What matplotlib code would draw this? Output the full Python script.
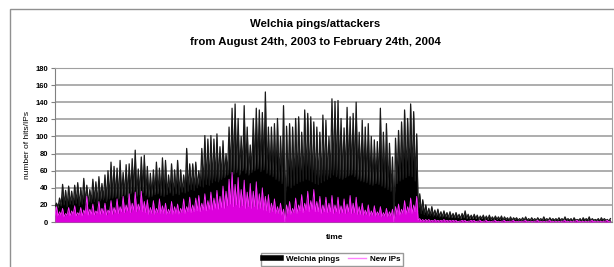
import numpy as np
import matplotlib.pyplot as plt
from matplotlib.patches import Rectangle

plt.rcParams['font.family'] = ['Liberation Sans', 'DejaVu Sans']

# Daily values, Aug 24th 2003 .. Feb 24th 2004 (184 days)
# daily peak of Welchia pings
pings_peak = [
    22, 28, 44, 37, 42, 36, 43, 46, 40, 51,
    43, 38, 50, 47, 53, 45, 55, 60, 70, 65,
    63, 72, 58, 67, 68, 74, 84, 62, 76, 78,
    65, 57, 61, 70, 63, 75, 72, 55, 68, 61,
    72, 61, 55, 86, 68, 68, 70, 60, 86, 101,
    97, 101, 97, 103, 88, 95, 80, 111, 133, 138,
    121, 100, 136, 111, 90, 121, 133, 131, 128, 152,
    111, 111, 115, 121, 100, 136, 112, 115, 111, 121,
    123, 105, 131, 127, 123, 117, 111, 105, 125, 119,
    100, 144, 141, 142, 121, 110, 134, 123, 127, 140,
    105, 119, 111, 115, 100, 96, 94, 133, 105, 115,
    92, 76, 98, 107, 117, 131, 121, 138, 129, 103,
    33, 26, 20, 16, 18, 14, 15, 12, 13, 11,
    12, 10, 11, 9, 10, 13, 9, 8, 9, 8,
    7, 8, 7, 8, 6, 7, 6, 7, 6, 5,
    6, 5, 5, 4, 5, 6, 4, 5, 4, 5,
    4, 6, 4, 5, 4, 4, 5, 4, 6, 4,
    4, 5, 3, 4, 5, 4, 6, 4, 3, 4,
    5, 4, 3, 4,
]
# daily low (night) level of Welchia pings; 0 = missing data
pings_low = [
    18, 17, 19, 20, 18, 21, 20, 22, 19, 21,
    22, 21, 23, 24, 22, 25, 26, 24, 27, 28,
    29, 27, 30, 31, 29, 33, 35, 30, 32, 34,
    31, 29, 30, 32, 33, 31, 30, 32, 34, 31,
    33, 32, 35, 34, 36, 38, 37, 40, 42, 41,
    44, 43, 46, 48, 47, 50, 52, 55, 57, 56,
    58, 55, 60, 57, 55, 58, 60, 62, 59, 61,
    57, 55, 53, 50, 48, 45, 0, 42, 40, 43,
    45, 47, 48, 50, 49, 47, 45, 44, 46, 48,
    50, 52, 55, 53, 51, 50, 52, 54, 55, 53,
    50, 48, 47, 46, 44, 43, 45, 44, 42, 40,
    38, 36, 0, 45, 48, 50, 52, 54, 53, 48,
    12, 10, 9, 8, 8, 7, 7, 6, 6, 6,
    5, 5, 5, 5, 4, 5, 4, 4, 4, 4,
    3, 4, 3, 3, 3, 3, 3, 3, 2, 3,
    2, 2, 3, 2, 2, 2, 2, 2, 2, 2,
    2, 2, 2, 2, 2, 2, 2, 2, 2, 2,
    2, 1, 2, 2, 1, 2, 2, 1, 2, 2,
    1, 2, 2, 1,
]
# daily peak of new attacking IPs
ips_peak = [
    18, 12, 16, 10, 17, 13, 19, 11, 17, 14,
    30, 15, 21, 13, 24, 16, 22, 14, 25, 17,
    27, 18, 30, 20, 33, 22, 35, 21, 36, 24,
    26, 17, 25, 16, 27, 19, 22, 15, 24, 18,
    21, 16, 27, 18, 29, 20, 28, 31, 22, 33,
    25, 35, 28, 37, 30, 42, 36, 50, 58, 44,
    52, 38, 49, 35, 45, 36, 47, 33, 40, 30,
    32, 22, 27, 18, 22, 15, 20, 24, 16, 28,
    20, 32, 22, 36, 25, 38, 24, 30, 20, 29,
    22, 31, 20, 29, 19, 27, 21, 31, 22, 29,
    18, 22, 14, 20, 13, 19, 12, 18, 11, 16,
    12, 15, 18, 21, 15, 25, 18, 28, 20, 30,
    4, 3, 3, 3, 2, 3, 2, 2, 3, 2,
    2, 2, 2, 1, 2, 2, 1, 2, 2, 1,
    2, 1, 2, 1, 1, 2, 1, 1, 2, 1,
    1, 2, 1, 1, 1, 2, 1, 1, 1, 2,
    1, 1, 1, 2, 1, 1, 1, 1, 2, 1,
    1, 1, 2, 1, 1, 1, 1, 2, 1, 1,
    1, 1, 2, 1,
]
# daily low level of new attacking IPs; 0 = missing data
ips_low = [
    8, 7, 8, 6, 8, 7, 9, 7, 8, 7,
    10, 8, 9, 8, 10, 9, 10, 8, 11, 9,
    11, 10, 12, 11, 13, 11, 14, 12, 14, 12,
    11, 9, 10, 9, 11, 10, 10, 9, 10, 9,
    10, 9, 11, 10, 12, 11, 12, 13, 12, 14,
    13, 15, 14, 16, 15, 17, 16, 19, 21, 18,
    20, 17, 19, 16, 18, 16, 18, 15, 16, 14,
    13, 11, 12, 10, 10, 8, 0, 10, 9, 11,
    10, 13, 11, 14, 12, 15, 12, 12, 10, 12,
    11, 12, 10, 12, 10, 11, 10, 12, 10, 11,
    9, 9, 8, 9, 7, 8, 7, 8, 6, 7,
    6, 7, 0, 9, 8, 10, 9, 11, 10, 12,
    2, 1, 1, 1, 1, 1, 1, 1, 1, 1,
    1, 1, 1, 0, 1, 1, 0, 1, 1, 0,
    1, 0, 1, 0, 0, 1, 0, 0, 1, 0,
    0, 1, 0, 0, 0, 1, 0, 0, 0, 1,
    0, 0, 0, 1, 0, 0, 0, 0, 1, 0,
    0, 0, 1, 0, 0, 0, 0, 1, 0, 0,
    0, 0, 1, 0,
]

days = np.arange(len(pings_peak))
# each day: night low at the start, daytime peak half a day later
t = np.column_stack([days, days + 0.5]).ravel()
pings = np.column_stack([pings_low, pings_peak]).ravel()
ips = np.column_stack([ips_low, ips_peak]).ravel()

fig = plt.figure(figsize=(6.14, 2.67), dpi=100)
ax = fig.add_axes([0.0896, 0.1685, 0.907, 0.5768])

ax.fill_between(t, 0, pings, color='black', lw=0, zorder=2)
ax.plot(t, pings, color='#1a1a1a', lw=0.9, zorder=3)
ax.fill_between(t, 0, ips, color='#dc00dc', lw=0, zorder=4)
ax.plot(t, ips, color='#ff30ff', lw=0.6, zorder=5)

ax.set_xlim(0, len(days))
ax.set_ylim(0, 180)
ax.set_yticks(range(0, 181, 20))
ax.set_xticks([])
ax.yaxis.grid(True, color='#a0a0a0', lw=1.2)
ax.set_axisbelow(True)
for s in ['top', 'right']:
    ax.spines[s].set_color('#a0a0a0')
ax.spines['left'].set_color('#808080')
ax.spines['bottom'].set_color('#808080')
ax.tick_params(axis='y', labelsize=5.5, length=3, color='#808080', pad=2)
for lab in ax.get_yticklabels():
    lab.set_fontweight('bold')

fig.text(0.513, 0.910, 'Welchia pings/attackers', ha='center', va='center',
         fontsize=8.2, fontweight='bold')
fig.text(0.513, 0.843, 'from August 24th, 2003 to February 24th, 2004', ha='center',
         va='center', fontsize=8.2, fontweight='bold')
fig.text(0.044, 0.457, 'number of hits/IPs', rotation=90, ha='center', va='center',
         fontsize=6)
fig.text(0.5456, 0.109, 'time', ha='center', va='center', fontsize=6, fontweight='bold')

h1, = ax.plot([], [], color='black', lw=4)
h2, = ax.plot([], [], color='#ff80ff', lw=1)
leg = fig.legend([h1, h2], ['Welchia pings', 'New IPs'], loc='upper center',
                 bbox_to_anchor=(0.541, 0.052), ncol=2, fontsize=5.8, frameon=True,
                 fancybox=False, edgecolor='#808080', borderpad=0.3, handlelength=2.2,
                 columnspacing=1.0, handletextpad=0.6, borderaxespad=0)
for lab in leg.get_texts():
    lab.set_fontweight('bold')

fig.patches.append(Rectangle((0.0163, -0.02), 1.0, 0.986, transform=fig.transFigure,
                             fill=False, edgecolor='#909090', lw=1))

fig.savefig('out.png', dpi=100)
